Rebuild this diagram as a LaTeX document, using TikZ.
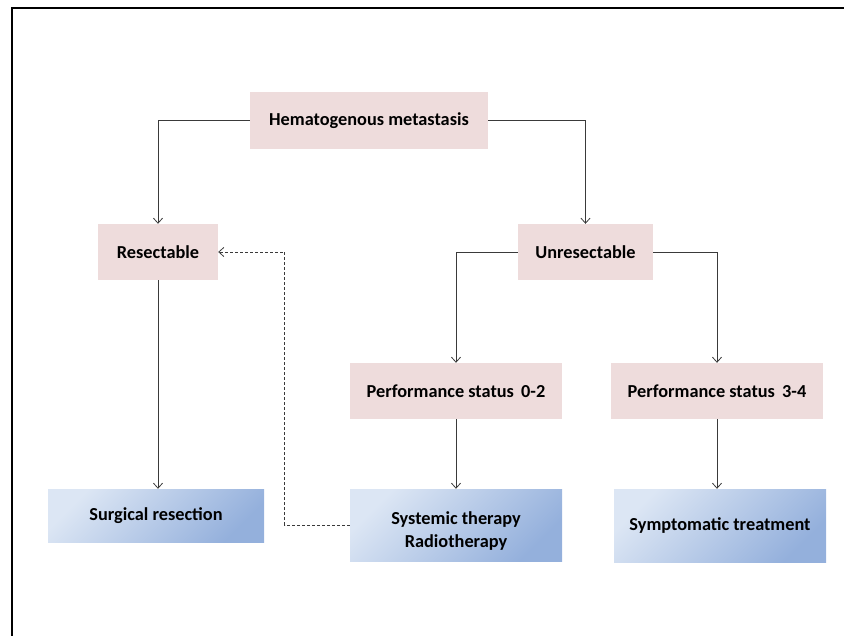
\documentclass[tikz,border=0pt]{standalone}
\usepackage{fontspec}
\setmainfont{Carlito}
\usetikzlibrary{arrows.meta}
\usetikzlibrary{positioning}
\definecolor{pinkbox}{HTML}{EEDCDC}
\definecolor{bluelight}{HTML}{DCE6F4}
\definecolor{bluemid}{HTML}{C3D4EE}
\definecolor{bluedark}{HTML}{94B0DC}
\definecolor{linegray}{HTML}{3A3A3A}

\begin{document}
\begin{tikzpicture}[
	x=1pt, y=-1pt,
  > = {Straight Barb[length=5pt,width=9pt]},
  every node/.style = {font=\fontsize{18.3}{23}\selectfont\bfseries, text=black},
  stage/.style = {fill=pinkbox, minimum height=56pt, inner sep=0pt, align=center},
  care/.style = {top color=bluelight, middle color=bluemid, bottom color=bluedark, shading angle=45, minimum height=73pt, inner sep=0pt, align=center},
  link/.style = {->, draw=linegray, line width=0.8pt},
  back/.style = {->, draw=linegray, line width=0.8pt, dash pattern=on 3pt off 2pt}
  ]
	\useasboundingbox (0,0) rectangle (844,636);
	\draw[line width=1.4pt] (11,8) -- (844,8);
	\draw[line width=2.6pt] (12,8) -- (12,636);

	\node[stage, minimum width=238pt, minimum height=57pt] (hema) at (369,120.5) {Hematogenous metastasis};
	\node[stage, minimum width=120pt] (resect) at (158,252) {Resectable};
	\node[stage, minimum width=135pt] (unres) at (585.5,252) {Unresectable};
	\node[stage, minimum width=212pt] (ps02) at (456,391) {Performance status\, 0-2};
	\node[stage, minimum width=212pt] (ps34) at (717,391) {Performance status\, 3-4};

	\node[care, minimum width=216pt, minimum height=53pt] (surg) at (156,515.5) {Surgical resection};
	\node[care, minimum width=212pt, minimum height=72pt] (syst) at (456,525) {\rule{0pt}{24pt}Systemic therapy\\Radiotherapy};
	\node[care, minimum width=212pt] (sympt) at (720,525.5) {Symptomatic treatment};

	\draw[link] (hema.west) -| (resect.north);
	\draw[link] (hema.east) -| (unres.north);
	\draw[link] (resect.south) -- (resect.south |- surg.north);
	\draw[link] (unres.west) -| (ps02.north);
	\draw[link] (unres.east) -| (ps34.north);
	\draw[link] (ps02) -- (syst);
	\draw[link] (ps34.south) -- (ps34.south |- sympt.north);

	\draw[back] (syst.west) -- ++(-65,0) |- (resect.east);

\end{tikzpicture}
\end{document}
